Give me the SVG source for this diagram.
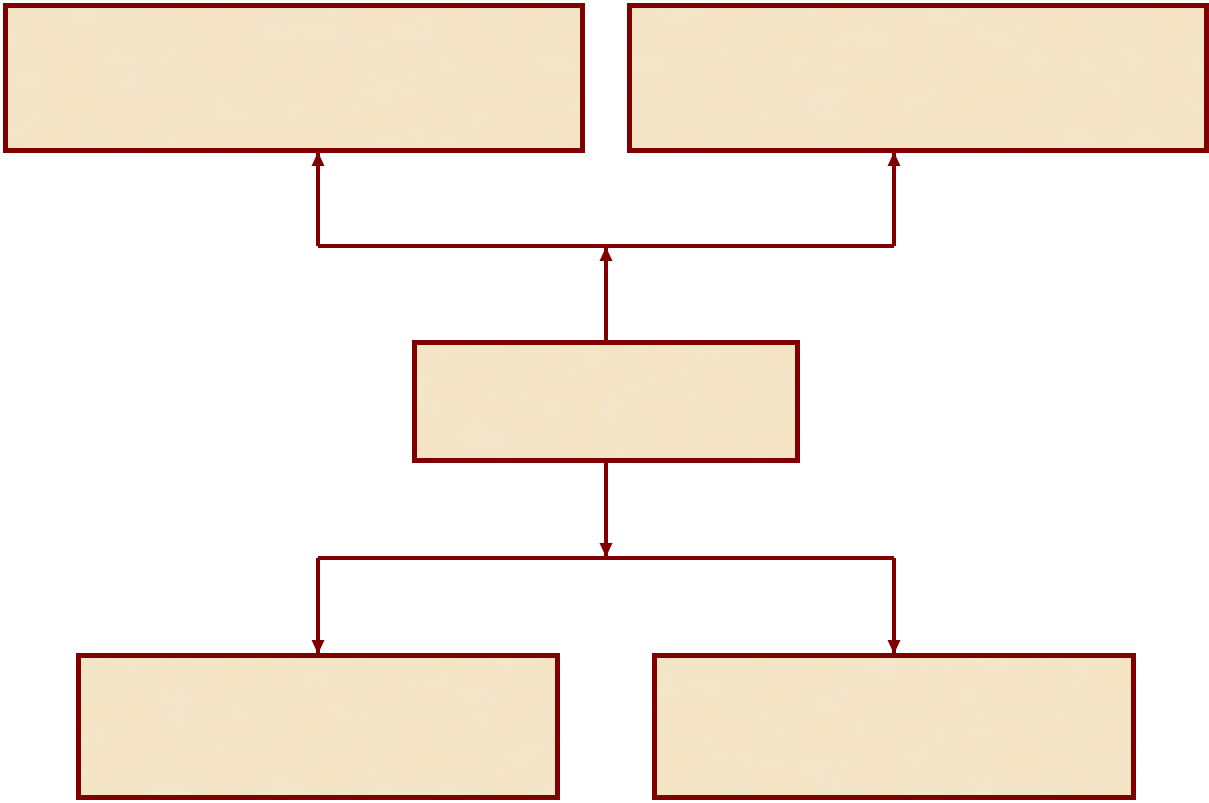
<svg xmlns="http://www.w3.org/2000/svg" width="1209" height="803" viewBox="0 0 1209 803">
<defs>
<filter id="parch" x="0" y="0" width="100%" height="100%">
<feTurbulence type="fractalNoise" baseFrequency="0.02 0.04" numOctaves="4" seed="7" result="n"/>
<feColorMatrix in="n" type="matrix" values="0 0 0 0 0.91  0 0 0 0 0.80  0 0 0 0 0.62  0 0 0 1.3 -0.45" result="tint"/>
<feFlood flood-color="#f4e4c4" result="base"/>
<feComposite in="tint" in2="base" operator="over" result="mix"/>
<feComposite in="mix" in2="SourceGraphic" operator="in"/>
</filter>
<marker id="ah" viewBox="0 0 14 14" refX="14" refY="7" markerWidth="14" markerHeight="14" orient="auto" markerUnits="userSpaceOnUse">
<path d="M0,0.5 L14,7 L0,13.5 Z" fill="#800000"/>
</marker>
</defs>
<style>
.box-fill{fill:#f0dcb8;}
.box-line{fill:none;stroke:#800000;stroke-width:5;}
.conn{fill:none;stroke:#800000;stroke-width:4;}
</style>
<g id="node-top-left">
<rect class="box-fill" x="5.5" y="5.5" width="577" height="145" filter="url(#parch)"/>
<rect class="box-line" x="5.5" y="5.5" width="577" height="145"/>
</g>
<g id="node-top-right">
<rect class="box-fill" x="629.5" y="5.5" width="577" height="145" filter="url(#parch)"/>
<rect class="box-line" x="629.5" y="5.5" width="577" height="145"/>
</g>
<g id="node-center">
<rect class="box-fill" x="414.5" y="342.5" width="383" height="118" filter="url(#parch)"/>
<rect class="box-line" x="414.5" y="342.5" width="383" height="118"/>
</g>
<g id="node-bottom-left">
<rect class="box-fill" x="78.5" y="655.5" width="479" height="142" filter="url(#parch)"/>
<rect class="box-line" x="78.5" y="655.5" width="479" height="142"/>
</g>
<g id="node-bottom-right">
<rect class="box-fill" x="654.5" y="655.5" width="479" height="142" filter="url(#parch)"/>
<rect class="box-line" x="654.5" y="655.5" width="479" height="142"/>
</g>
<g id="connectors">
<line class="conn" x1="606" y1="340" x2="606" y2="247" marker-end="url(#ah)"/>
<line class="conn" x1="318" y1="246" x2="894" y2="246"/>
<line class="conn" x1="318" y1="246" x2="318" y2="152" marker-end="url(#ah)"/>
<line class="conn" x1="894" y1="246" x2="894" y2="152" marker-end="url(#ah)"/>
<line class="conn" x1="606" y1="463" x2="606" y2="557" marker-end="url(#ah)"/>
<line class="conn" x1="318" y1="558" x2="894" y2="558"/>
<line class="conn" x1="318" y1="558" x2="318" y2="654" marker-end="url(#ah)"/>
<line class="conn" x1="894" y1="558" x2="894" y2="654" marker-end="url(#ah)"/>
</g>
</svg>
